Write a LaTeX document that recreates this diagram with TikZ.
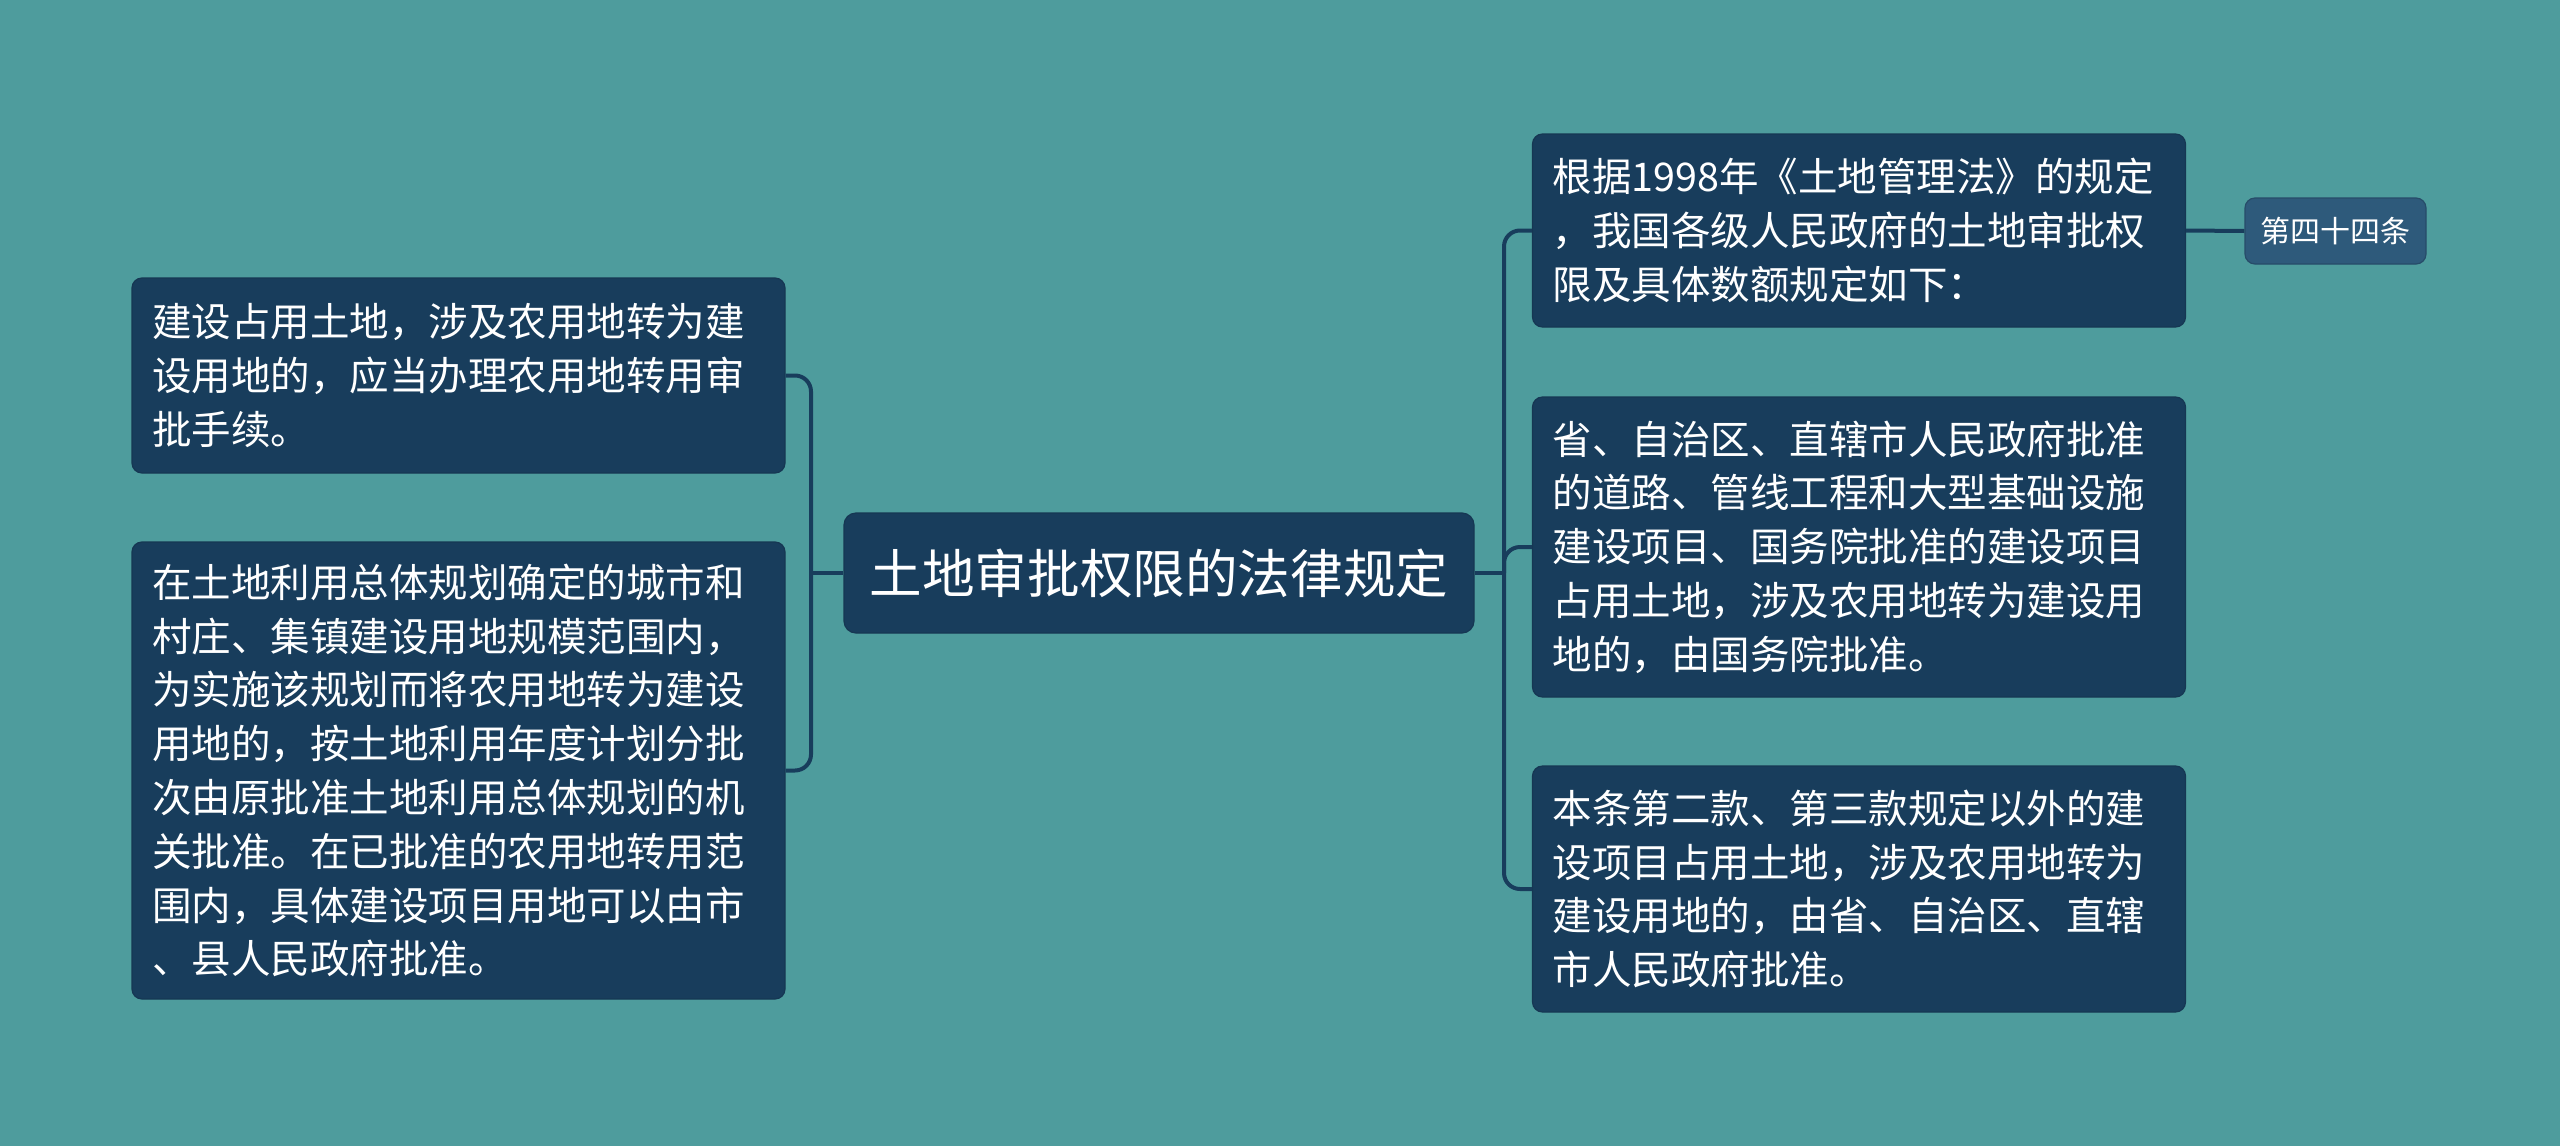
\documentclass[tikz,border=0pt]{standalone}
\usepackage{fontspec}
\newfontfamily\cjk{Noto Sans CJK SC}
\definecolor{bgteal}{RGB}{78,156,157}
\definecolor{navy}{RGB}{24,61,92}
\definecolor{navylight}{RGB}{46,90,123}
\begin{document}
\begin{tikzpicture}[x=0.5pt,y=-0.5pt,
  box/.style={fill=navy, draw=navy!90!black, line width=0.6pt, rounded corners=5pt,
    inner xsep=10pt, inner ysep=0pt, text=white, align=left,
    font=\cjk\fontsize{19.75pt}{26.9pt}\selectfont,
    text width=306.5pt, anchor=center},
  rootbox/.style={fill=navy, draw=navy!90!black, line width=0.6pt, rounded corners=6pt,
    inner sep=0pt, text=white, align=center,
    font=\cjk\fontsize{26.3pt}{30pt}\selectfont,
    minimum width=315pt, minimum height=60pt},
  smallbox/.style={fill=navylight, draw=navylight!85!black, line width=0.6pt, rounded corners=5pt,
    inner sep=0pt, text=white, align=center,
    font=\cjk\fontsize{15pt}{18pt}\selectfont,
    minimum width=90.5pt, minimum height=33pt},
  conn/.style={draw=navy, line width=2pt},
  roundconn/.style={conn, rounded corners=8pt}
]
\useasboundingbox (0,0) rectangle (2560,1146);
\fill[bgteal] (0,0) rectangle (2560,1146);

% nodes
\node[rootbox] (C) at (1159,573) {土地审批权限的法律规定};

\node[box, minimum height=97.5pt] (L1) at (458.5,375.5)
  {建设占用土地，涉及农用地转为建\\设用地的，应当办理农用地转用审\\批手续。};
\node[box, minimum height=228.5pt] (L2) at (458.5,770.5)
  {在土地利用总体规划确定的城市和\\村庄、集镇建设用地规模范围内，\\为实施该规划而将农用地转为建设\\用地的，按土地利用年度计划分批\\次由原批准土地利用总体规划的机\\关批准。在已批准的农用地转用范\\围内，具体建设项目用地可以由市\\、县人民政府批准。};

\node[box, minimum height=96.5pt] (R1) at (1859,230.5)
  {根据1998年《土地管理法》的规定\\，我国各级人民政府的土地审批权\\限及具体数额规定如下：};
\node[box, minimum height=150pt] (R2) at (1859,547)
  {省、自治区、直辖市人民政府批准\\的道路、管线工程和大型基础设施\\建设项目、国务院批准的建设项目\\占用土地，涉及农用地转为建设用\\地的，由国务院批准。};
\node[box, minimum height=123pt] (R3) at (1859,889)
  {本条第二款、第三款规定以外的建\\设项目占用土地，涉及农用地转为\\建设用地的，由省、自治区、直辖\\市人民政府批准。};

\node[smallbox] (S) at (2335.5,231) {第四十四条};

% junctions
\coordinate (jL) at (811,573);
\coordinate (jR) at (1504,573);

% connectors left
\draw[conn] (C.west) -- (jL);
\draw[roundconn] (L1.east) -| (jL) |- (L2.east);

% connectors right
\draw[conn] (C.east) -- (jR);
\draw[roundconn] (R1.west) -| (jR) |- (R3.west);
\draw[roundconn] (jR) |- (R2.west);

\draw[conn] (R1.east) -- (S.west);
\end{tikzpicture}
\end{document}
